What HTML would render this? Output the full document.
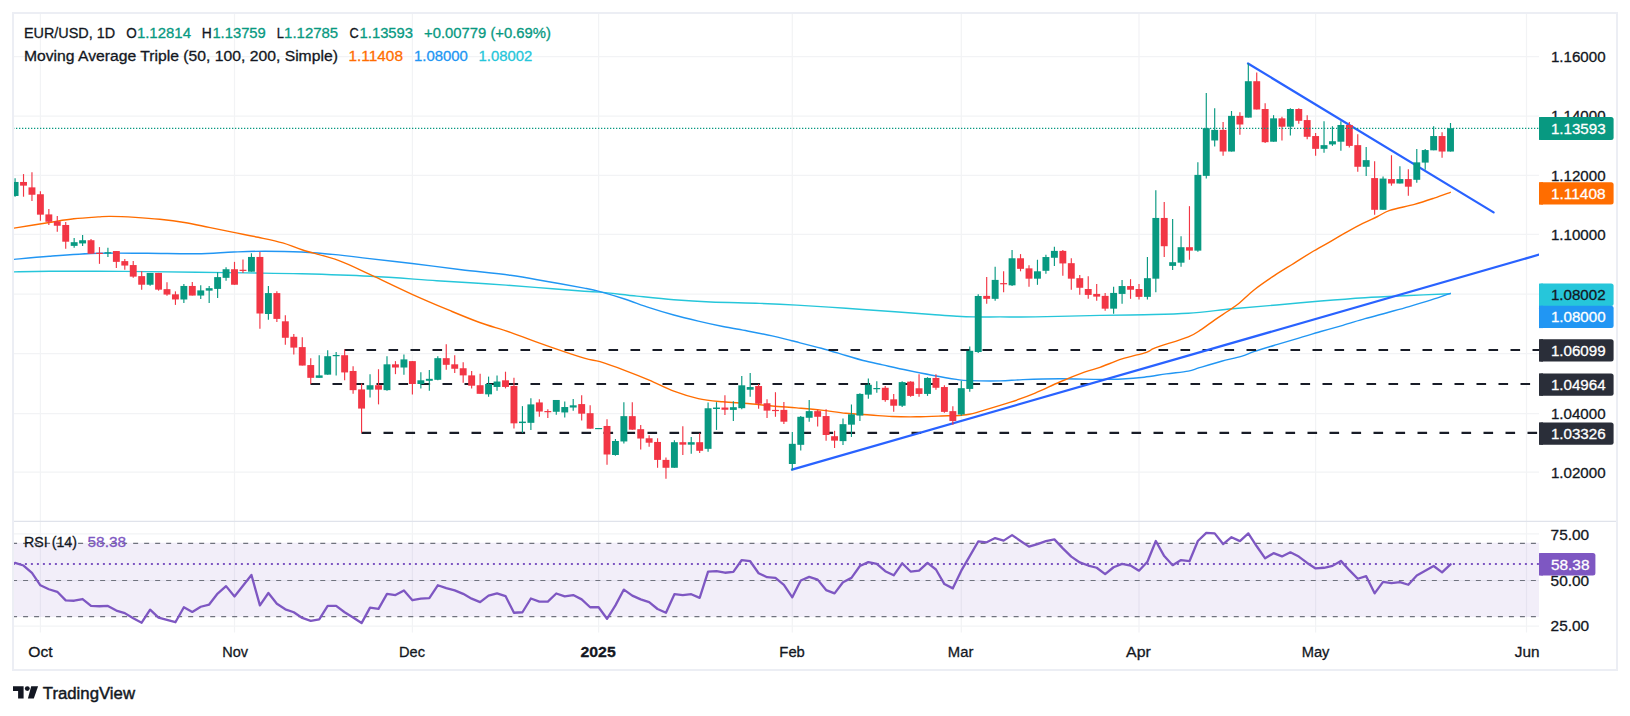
<!DOCTYPE html>
<html lang="en"><head><meta charset="utf-8"><title>EUR/USD 1D chart</title>
<style>html,body{margin:0;padding:0;background:#fff;}svg{display:block;}</style></head>
<body>
<svg width="1630" height="716" viewBox="0 0 1630 716" font-family="'Liberation Sans', sans-serif">
<rect width="1630" height="716" fill="#ffffff"/>
<clipPath id="cp"><rect x="14" y="14" width="1525" height="655"/></clipPath>
<line x1="40.4" y1="12.5" x2="40.4" y2="632.5" stroke="#f2f3f5" stroke-width="1.25" />
<line x1="234.5" y1="12.5" x2="234.5" y2="632.5" stroke="#f2f3f5" stroke-width="1.25" />
<line x1="412.4" y1="12.5" x2="412.4" y2="632.5" stroke="#f2f3f5" stroke-width="1.25" />
<line x1="598.6" y1="12.5" x2="598.6" y2="632.5" stroke="#f2f3f5" stroke-width="1.25" />
<line x1="792.3" y1="12.5" x2="792.3" y2="632.5" stroke="#f2f3f5" stroke-width="1.25" />
<line x1="961.3" y1="12.5" x2="961.3" y2="632.5" stroke="#f2f3f5" stroke-width="1.25" />
<line x1="1139" y1="12.5" x2="1139" y2="632.5" stroke="#f2f3f5" stroke-width="1.25" />
<line x1="1315.6" y1="12.5" x2="1315.6" y2="632.5" stroke="#f2f3f5" stroke-width="1.25" />
<line x1="1526.5" y1="12.5" x2="1526.5" y2="632.5" stroke="#f2f3f5" stroke-width="1.25" />
<line x1="12.5" y1="56.5" x2="1539" y2="56.5" stroke="#f2f3f5" stroke-width="1.25" />
<line x1="12.5" y1="116" x2="1539" y2="116" stroke="#f2f3f5" stroke-width="1.25" />
<line x1="12.5" y1="175.3" x2="1539" y2="175.3" stroke="#f2f3f5" stroke-width="1.25" />
<line x1="12.5" y1="234.4" x2="1539" y2="234.4" stroke="#f2f3f5" stroke-width="1.25" />
<line x1="12.5" y1="294" x2="1539" y2="294" stroke="#f2f3f5" stroke-width="1.25" />
<line x1="12.5" y1="353.5" x2="1539" y2="353.5" stroke="#f2f3f5" stroke-width="1.25" />
<line x1="12.5" y1="413.5" x2="1539" y2="413.5" stroke="#f2f3f5" stroke-width="1.25" />
<line x1="12.5" y1="472.1" x2="1539" y2="472.1" stroke="#f2f3f5" stroke-width="1.25" />
<line x1="12.5" y1="533.9" x2="1539" y2="533.9" stroke="#f2f3f5" stroke-width="1.25" />
<line x1="12.5" y1="580.5" x2="1539" y2="580.5" stroke="#f2f3f5" stroke-width="1.25" />
<line x1="12.5" y1="626.2" x2="1539" y2="626.2" stroke="#f2f3f5" stroke-width="1.25" />
<rect x="14" y="542.8" width="1525" height="74.2" fill="#7e57c2" fill-opacity="0.1"/>
<g clip-path="url(#cp)">
<path d="M12 272C12.25 271.98 7.3 272.03 13.5 271.9C19.7 271.77 30.97 271.28 49.2 271.2C67.43 271.12 98.32 271.23 122.9 271.4C147.48 271.57 176.2 271.95 196.7 272.2C217.2 272.45 228.43 272.63 245.9 272.9C263.37 273.17 280.77 273.23 301.5 273.8C322.23 274.37 347.77 275.15 370.3 276.3C392.83 277.45 417.43 279.47 436.7 280.7C455.97 281.93 469.52 282.58 485.9 283.7C502.28 284.82 518.62 286.13 535 287.4C551.38 288.67 573.37 290.52 584.2 291.3C595.03 292.08 591.22 291.3 600 292.1C608.78 292.9 624.6 294.83 636.9 296.1C649.2 297.37 661.52 298.72 673.8 299.7C686.08 300.68 696.27 301.38 710.6 302C724.93 302.62 745.45 302.88 759.8 303.4C774.15 303.92 782.35 304.28 796.7 305.1C811.05 305.92 829.52 307.18 845.9 308.3C862.28 309.42 880.67 310.77 895 311.8C909.33 312.83 921.65 313.77 931.9 314.5C942.15 315.23 949.53 315.8 956.5 316.2C963.47 316.6 966.45 316.78 973.7 316.9C980.95 317.02 989.75 316.9 1000 316.9C1010.25 316.9 1018.53 317.15 1035.2 316.9C1051.87 316.65 1081.83 315.77 1100 315.4C1118.17 315.03 1129.48 315.07 1144.2 314.7C1158.92 314.33 1173.58 314.18 1188.3 313.2C1203.02 312.22 1217.77 310.17 1232.5 308.8C1247.23 307.43 1261.98 306.3 1276.7 305C1291.42 303.7 1306.08 302.22 1320.8 301C1335.52 299.78 1350.27 298.62 1365 297.7C1379.73 296.78 1394.98 296.17 1409.2 295.5C1423.42 294.83 1443.45 294 1450.3 293.7" fill="none" stroke="#26c6da" stroke-width="1.4" stroke-linecap="round"/>
<path d="M12 259.6C12.25 259.57 7.3 259.97 13.5 259.4C19.7 258.83 35.07 257.22 49.2 256.2C63.33 255.18 81.92 253.78 98.3 253.3C114.68 252.82 131.1 253.23 147.5 253.3C163.9 253.37 182.35 253.92 196.7 253.7C211.05 253.48 222.28 252.42 233.6 252C244.92 251.58 253.28 251.2 264.6 251.2C275.92 251.2 289.22 251.38 301.5 252C313.78 252.62 328.07 253.92 338.3 254.9C348.53 255.88 350.6 256.47 362.9 257.9C375.2 259.33 395.7 261.53 412.1 263.5C428.5 265.47 444.92 267.73 461.3 269.7C477.68 271.67 496.07 273.33 510.4 275.3C524.73 277.27 535 279.37 547.3 281.5C559.6 283.63 575.42 286.42 584.2 288.1C592.98 289.78 593.27 289.78 600 291.6C606.73 293.42 616.4 296.33 624.6 299C632.8 301.67 641 304.93 649.2 307.6C657.4 310.27 665.62 312.75 673.8 315C681.98 317.25 690.12 319.18 698.3 321.1C706.48 323.02 714.7 324.85 722.9 326.5C731.1 328.15 739.3 329.43 747.5 331C755.7 332.57 764.72 334.27 772.1 335.9C779.48 337.53 783.6 338.75 791.8 340.8C800 342.85 812.28 345.75 821.3 348.2C830.32 350.65 838.93 353.45 845.9 355.5C852.87 357.55 856.97 358.93 863.1 360.5C869.23 362.07 875.33 363.27 882.7 364.9C890.07 366.53 899.1 368.58 907.3 370.3C915.5 372.02 923.7 373.68 931.9 375.2C940.1 376.72 950.35 378.5 956.5 379.4C962.65 380.3 961.55 380.35 968.8 380.6C976.05 380.85 990.98 381.07 1000 380.9C1009.02 380.73 1012.93 379.95 1022.9 379.6C1032.87 379.25 1046.95 378.83 1059.8 378.8C1072.65 378.77 1089.62 379.37 1100 379.4C1110.38 379.43 1114.73 379.37 1122.1 379C1129.47 378.63 1136.83 378.05 1144.2 377.2C1151.57 376.35 1158.95 374.92 1166.3 373.9C1173.65 372.88 1182.78 372.13 1188.3 371.1C1193.82 370.07 1193.87 369.33 1199.4 367.7C1204.93 366.07 1214.52 363.2 1221.5 361.3C1228.48 359.4 1235.78 357.95 1241.3 356.3C1246.82 354.65 1248.7 353.35 1254.6 351.4C1260.5 349.45 1269.33 346.82 1276.7 344.6C1284.07 342.38 1291.45 340.28 1298.8 338.1C1306.15 335.92 1313.45 333.63 1320.8 331.5C1328.15 329.37 1335.53 327.43 1342.9 325.3C1350.27 323.17 1357.63 320.8 1365 318.7C1372.37 316.6 1379.73 314.72 1387.1 312.7C1394.47 310.68 1401.83 308.73 1409.2 306.6C1416.57 304.47 1424.45 302.12 1431.3 299.9C1438.15 297.68 1447.13 294.4 1450.3 293.3" fill="none" stroke="#2196f3" stroke-width="1.4" stroke-linecap="round"/>
<path d="M12 228.6C12.25 228.53 7.3 229.22 13.5 228.2C19.7 227.18 39.15 224.07 49.2 222.5C59.25 220.93 65.62 219.73 73.8 218.8C81.98 217.87 92.17 217.3 98.3 216.9C104.43 216.5 104.45 216.32 110.6 216.4C116.75 216.48 127 216.92 135.2 217.4C143.4 217.88 151.6 218.45 159.8 219.3C168 220.15 176.2 221.15 184.4 222.5C192.6 223.85 200.8 225.75 209 227.4C217.2 229.05 225.4 230.75 233.6 232.4C241.8 234.05 250.02 235.55 258.2 237.3C266.38 239.05 275.28 240.78 282.7 242.9C290.12 245.02 293.43 247.1 302.7 250C311.97 252.9 327.03 256.2 338.3 260.3C349.57 264.4 358 268.93 370.3 274.6C382.6 280.27 398.98 288.37 412.1 294.3C425.22 300.23 437.73 305.5 449 310.2C460.27 314.9 469.47 318.8 479.7 322.5C489.93 326.2 499.13 328.5 510.4 332.4C521.67 336.3 535 341.6 547.3 345.9C559.6 350.2 575.42 355.57 584.2 358.2C592.98 360.83 593.27 359.68 600 361.7C606.73 363.72 616.4 367.23 624.6 370.3C632.8 373.37 641 376.62 649.2 380.1C657.4 383.58 665.62 388.12 673.8 391.2C681.98 394.28 690.12 396.83 698.3 398.6C706.48 400.37 714.7 400.98 722.9 401.8C731.1 402.62 739.3 402.8 747.5 403.5C755.7 404.2 763.9 405.27 772.1 406C780.3 406.73 788.5 407.22 796.7 407.9C804.9 408.58 813.1 409.2 821.3 410.1C829.5 411 837.72 412.48 845.9 413.3C854.08 414.12 862.73 414.47 870.4 415C878.07 415.53 884.22 416.2 891.9 416.5C899.58 416.8 908.3 416.88 916.5 416.8C924.7 416.72 932.78 416.35 941.1 416C949.42 415.65 958.92 415.77 966.4 414.7C973.88 413.63 978.63 411.68 986 409.6C993.37 407.52 1002.4 404.95 1010.6 402.2C1018.8 399.45 1027 396.47 1035.2 393.1C1043.4 389.73 1051.6 385.48 1059.8 382C1068 378.52 1077.7 374.65 1084.4 372.2C1091.1 369.75 1093.72 369.52 1100 367.3C1106.28 365.08 1114.37 361.4 1122.1 358.9C1129.83 356.4 1140.88 354.13 1146.4 352.3C1151.92 350.47 1148.22 350.48 1155.2 347.9C1162.18 345.32 1180.57 339.9 1188.3 336.8C1196.03 333.7 1197.18 332.13 1201.6 329.3C1206.02 326.47 1210.38 322.85 1214.8 319.8C1219.22 316.75 1224.05 313.75 1228.1 311C1232.15 308.25 1234.68 306.88 1239.1 303.3C1243.52 299.72 1248.73 294.12 1254.6 289.5C1260.47 284.88 1267.75 279.97 1274.3 275.6C1280.85 271.23 1287.35 267.4 1293.9 263.3C1300.45 259.2 1307.03 254.9 1313.6 251C1320.17 247.1 1327.57 243.18 1333.3 239.9C1339.03 236.62 1343.08 234.05 1348 231.3C1352.92 228.55 1357.88 225.87 1362.8 223.4C1367.72 220.93 1373 218.67 1377.5 216.5C1382 214.33 1383.65 212.43 1389.8 210.4C1395.95 208.37 1407.02 206.35 1414.4 204.3C1421.78 202.25 1428.12 200.1 1434.1 198.1C1440.08 196.1 1447.6 193.27 1450.3 192.3" fill="none" stroke="#ff6d00" stroke-width="1.4" stroke-linecap="round"/>
</g>
<g clip-path="url(#cp)">
<line x1="344.5" y1="350" x2="1539" y2="350" stroke="#181c27" stroke-width="2.1" stroke-dasharray="9.6 12.4"/>
<line x1="310.5" y1="384" x2="1539" y2="384" stroke="#181c27" stroke-width="2.1" stroke-dasharray="9.6 12.4"/>
<line x1="361.5" y1="432.9" x2="1539" y2="432.9" stroke="#181c27" stroke-width="2.1" stroke-dasharray="9.6 12.4"/>
<line x1="792" y1="469.6" x2="1539" y2="254.7" stroke="#2962ff" stroke-width="2.25" stroke-linecap="round"/>
<line x1="1248" y1="63.5" x2="1493.6" y2="212.4" stroke="#2962ff" stroke-width="2.25" stroke-linecap="round"/>
</g>
<g clip-path="url(#cp)">
<line x1="15.08" y1="178.27" x2="15.08" y2="196.71" stroke="#089981" stroke-width="1.15" />
<rect x="11.63" y="181.96" width="6.9" height="14.01" fill="#089981"/>
<line x1="23.52" y1="174.09" x2="23.52" y2="196.71" stroke="#f23645" stroke-width="1.15" />
<rect x="20.07" y="181.96" width="6.9" height="3.69" fill="#f23645"/>
<line x1="31.96" y1="172.13" x2="31.96" y2="200.89" stroke="#f23645" stroke-width="1.15" />
<rect x="28.51" y="187.37" width="6.9" height="7.38" fill="#f23645"/>
<line x1="40.4" y1="191.3" x2="40.4" y2="220.81" stroke="#f23645" stroke-width="1.15" />
<rect x="36.95" y="194.25" width="6.9" height="20.41" fill="#f23645"/>
<line x1="48.84" y1="209" x2="48.84" y2="224.98" stroke="#f23645" stroke-width="1.15" />
<rect x="45.39" y="214.41" width="6.9" height="7.38" fill="#f23645"/>
<line x1="57.28" y1="215.89" x2="57.28" y2="231.87" stroke="#f23645" stroke-width="1.15" />
<rect x="53.83" y="221.3" width="6.9" height="4.43" fill="#f23645"/>
<line x1="65.72" y1="222.03" x2="65.72" y2="248.83" stroke="#f23645" stroke-width="1.15" />
<rect x="62.27" y="224.98" width="6.9" height="16.72" fill="#f23645"/>
<line x1="74.16" y1="238.01" x2="74.16" y2="247.85" stroke="#089981" stroke-width="1.15" />
<rect x="70.71" y="242.19" width="6.9" height="3.69" fill="#089981"/>
<line x1="82.6" y1="235.06" x2="82.6" y2="245.88" stroke="#089981" stroke-width="1.15" />
<rect x="79.15" y="240.23" width="6.9" height="3.2" fill="#089981"/>
<line x1="91.03" y1="239" x2="91.03" y2="253.75" stroke="#f23645" stroke-width="1.15" />
<rect x="87.58" y="240.23" width="6.9" height="13.52" fill="#f23645"/>
<line x1="99.47" y1="247.11" x2="99.47" y2="263.83" stroke="#f23645" stroke-width="1.15" />
<rect x="96.02" y="252.77" width="6.9" height="1.2" fill="#f23645"/>
<line x1="107.91" y1="247.85" x2="107.91" y2="256.95" stroke="#089981" stroke-width="1.15" />
<rect x="104.46" y="252.27" width="6.9" height="1.2" fill="#089981"/>
<line x1="116.35" y1="251.04" x2="116.35" y2="268.01" stroke="#f23645" stroke-width="1.15" />
<rect x="112.9" y="251.04" width="6.9" height="10.82" fill="#f23645"/>
<line x1="124.79" y1="258.91" x2="124.79" y2="269.73" stroke="#f23645" stroke-width="1.15" />
<rect x="121.34" y="261.12" width="6.9" height="4.43" fill="#f23645"/>
<line x1="133.23" y1="261.12" x2="133.23" y2="277.84" stroke="#f23645" stroke-width="1.15" />
<rect x="129.78" y="265.06" width="6.9" height="11.56" fill="#f23645"/>
<line x1="141.67" y1="271.2" x2="141.67" y2="289.64" stroke="#f23645" stroke-width="1.15" />
<rect x="138.22" y="276.12" width="6.9" height="8.6" fill="#f23645"/>
<line x1="150.11" y1="272.93" x2="150.11" y2="285.71" stroke="#089981" stroke-width="1.15" />
<rect x="146.66" y="272.93" width="6.9" height="11.8" fill="#089981"/>
<line x1="158.55" y1="272.93" x2="158.55" y2="290.63" stroke="#f23645" stroke-width="1.15" />
<rect x="155.1" y="272.93" width="6.9" height="16.72" fill="#f23645"/>
<line x1="166.99" y1="282.27" x2="166.99" y2="295.79" stroke="#f23645" stroke-width="1.15" />
<rect x="163.54" y="289.15" width="6.9" height="5.41" fill="#f23645"/>
<line x1="175.43" y1="291.36" x2="175.43" y2="304.89" stroke="#f23645" stroke-width="1.15" />
<rect x="171.98" y="294.31" width="6.9" height="5.16" fill="#f23645"/>
<line x1="183.87" y1="283.99" x2="183.87" y2="302.92" stroke="#089981" stroke-width="1.15" />
<rect x="180.42" y="285.96" width="6.9" height="13.52" fill="#089981"/>
<line x1="192.3" y1="282.02" x2="192.3" y2="295.54" stroke="#f23645" stroke-width="1.15" />
<rect x="188.85" y="285.96" width="6.9" height="9.59" fill="#f23645"/>
<line x1="200.74" y1="285.22" x2="200.74" y2="298.99" stroke="#089981" stroke-width="1.15" />
<rect x="197.29" y="290.38" width="6.9" height="5.16" fill="#089981"/>
<line x1="209.18" y1="285.96" x2="209.18" y2="302.92" stroke="#089981" stroke-width="1.15" />
<rect x="205.73" y="288.17" width="6.9" height="2.46" fill="#089981"/>
<line x1="217.62" y1="272.19" x2="217.62" y2="298" stroke="#089981" stroke-width="1.15" />
<rect x="214.17" y="277.11" width="6.9" height="11.8" fill="#089981"/>
<line x1="226.06" y1="267.27" x2="226.06" y2="280.79" stroke="#089981" stroke-width="1.15" />
<rect x="222.61" y="269.24" width="6.9" height="8.6" fill="#089981"/>
<line x1="234.5" y1="261.86" x2="234.5" y2="284.73" stroke="#f23645" stroke-width="1.15" />
<rect x="231.05" y="269.24" width="6.9" height="15.49" fill="#f23645"/>
<line x1="242.97" y1="259.4" x2="242.97" y2="272.93" stroke="#f23645" stroke-width="1.15" />
<rect x="239.52" y="269.73" width="6.9" height="1.23" fill="#f23645"/>
<line x1="251.44" y1="253.26" x2="251.44" y2="271.7" stroke="#089981" stroke-width="1.15" />
<rect x="247.99" y="256.95" width="6.9" height="14.75" fill="#089981"/>
<line x1="259.91" y1="252.03" x2="259.91" y2="328.67" stroke="#f23645" stroke-width="1.15" />
<rect x="256.46" y="256.95" width="6.9" height="56.55" fill="#f23645"/>
<line x1="268.39" y1="285.96" x2="268.39" y2="319.64" stroke="#089981" stroke-width="1.15" />
<rect x="264.94" y="293.09" width="6.9" height="20.9" fill="#089981"/>
<line x1="276.86" y1="291.36" x2="276.86" y2="322.1" stroke="#f23645" stroke-width="1.15" />
<rect x="273.41" y="293.09" width="6.9" height="25.81" fill="#f23645"/>
<line x1="285.33" y1="315.15" x2="285.33" y2="344.65" stroke="#f23645" stroke-width="1.15" />
<rect x="281.88" y="321.3" width="6.9" height="16.47" fill="#f23645"/>
<line x1="293.8" y1="334.08" x2="293.8" y2="354.49" stroke="#f23645" stroke-width="1.15" />
<rect x="290.35" y="336.79" width="6.9" height="10.82" fill="#f23645"/>
<line x1="302.27" y1="337.28" x2="302.27" y2="365.55" stroke="#f23645" stroke-width="1.15" />
<rect x="298.82" y="347.11" width="6.9" height="18.44" fill="#f23645"/>
<line x1="310.74" y1="358.17" x2="310.74" y2="383.99" stroke="#f23645" stroke-width="1.15" />
<rect x="307.29" y="365.06" width="6.9" height="12.78" fill="#f23645"/>
<line x1="319.21" y1="355.22" x2="319.21" y2="377.84" stroke="#089981" stroke-width="1.15" />
<rect x="315.76" y="375.38" width="6.9" height="2.46" fill="#089981"/>
<line x1="327.69" y1="350.31" x2="327.69" y2="374.65" stroke="#089981" stroke-width="1.15" />
<rect x="324.24" y="356.21" width="6.9" height="18.44" fill="#089981"/>
<line x1="336.16" y1="352.03" x2="336.16" y2="375.38" stroke="#089981" stroke-width="1.15" />
<rect x="332.71" y="354.98" width="6.9" height="1.23" fill="#089981"/>
<line x1="344.63" y1="349.57" x2="344.63" y2="380.3" stroke="#f23645" stroke-width="1.15" />
<rect x="341.18" y="355.22" width="6.9" height="17.21" fill="#f23645"/>
<line x1="353.1" y1="366.29" x2="353.1" y2="393.82" stroke="#f23645" stroke-width="1.15" />
<rect x="349.65" y="370.96" width="6.9" height="19.18" fill="#f23645"/>
<line x1="361.57" y1="383.5" x2="361.57" y2="432.86" stroke="#f23645" stroke-width="1.15" />
<rect x="358.12" y="389.4" width="6.9" height="19.18" fill="#f23645"/>
<line x1="370.04" y1="374.15" x2="370.04" y2="397.51" stroke="#089981" stroke-width="1.15" />
<rect x="366.59" y="385.22" width="6.9" height="4.43" fill="#089981"/>
<line x1="378.51" y1="369.24" x2="378.51" y2="404.39" stroke="#f23645" stroke-width="1.15" />
<rect x="375.06" y="385.22" width="6.9" height="4.43" fill="#f23645"/>
<line x1="386.99" y1="356.21" x2="386.99" y2="390.87" stroke="#089981" stroke-width="1.15" />
<rect x="383.54" y="364.32" width="6.9" height="25.81" fill="#089981"/>
<line x1="395.46" y1="361.12" x2="395.46" y2="374.15" stroke="#f23645" stroke-width="1.15" />
<rect x="392.01" y="364.32" width="6.9" height="3.2" fill="#f23645"/>
<line x1="403.93" y1="354.49" x2="403.93" y2="374.65" stroke="#089981" stroke-width="1.15" />
<rect x="400.48" y="359.4" width="6.9" height="8.11" fill="#089981"/>
<line x1="412.4" y1="361.12" x2="412.4" y2="394.56" stroke="#f23645" stroke-width="1.15" />
<rect x="408.95" y="361.12" width="6.9" height="22.86" fill="#f23645"/>
<line x1="420.86" y1="372.19" x2="420.86" y2="388.41" stroke="#089981" stroke-width="1.15" />
<rect x="417.41" y="380.3" width="6.9" height="3.69" fill="#089981"/>
<line x1="429.33" y1="369.98" x2="429.33" y2="390.63" stroke="#089981" stroke-width="1.15" />
<rect x="425.88" y="378.83" width="6.9" height="1.97" fill="#089981"/>
<line x1="437.79" y1="356.21" x2="437.79" y2="380.3" stroke="#089981" stroke-width="1.15" />
<rect x="434.34" y="358.17" width="6.9" height="21.63" fill="#089981"/>
<line x1="446.25" y1="344.16" x2="446.25" y2="369.73" stroke="#f23645" stroke-width="1.15" />
<rect x="442.8" y="358.17" width="6.9" height="6.64" fill="#f23645"/>
<line x1="454.72" y1="355.22" x2="454.72" y2="372.93" stroke="#f23645" stroke-width="1.15" />
<rect x="451.27" y="364.32" width="6.9" height="4.43" fill="#f23645"/>
<line x1="463.18" y1="362.35" x2="463.18" y2="382.76" stroke="#f23645" stroke-width="1.15" />
<rect x="459.73" y="368.25" width="6.9" height="7.13" fill="#f23645"/>
<line x1="471.65" y1="370.96" x2="471.65" y2="388.41" stroke="#f23645" stroke-width="1.15" />
<rect x="468.2" y="375.38" width="6.9" height="10.33" fill="#f23645"/>
<line x1="480.11" y1="373.66" x2="480.11" y2="393.82" stroke="#f23645" stroke-width="1.15" />
<rect x="476.66" y="385.22" width="6.9" height="8.6" fill="#f23645"/>
<line x1="488.57" y1="376.61" x2="488.57" y2="396.77" stroke="#089981" stroke-width="1.15" />
<rect x="485.12" y="383.99" width="6.9" height="10.33" fill="#089981"/>
<line x1="497.04" y1="375.38" x2="497.04" y2="390.63" stroke="#089981" stroke-width="1.15" />
<rect x="493.59" y="381.53" width="6.9" height="5.41" fill="#089981"/>
<line x1="505.5" y1="371.7" x2="505.5" y2="388.41" stroke="#f23645" stroke-width="1.15" />
<rect x="502.05" y="380.3" width="6.9" height="6.64" fill="#f23645"/>
<line x1="513.96" y1="377.84" x2="513.96" y2="428.43" stroke="#f23645" stroke-width="1.15" />
<rect x="510.51" y="385.96" width="6.9" height="37.37" fill="#f23645"/>
<line x1="522.43" y1="406.12" x2="522.43" y2="432.86" stroke="#089981" stroke-width="1.15" />
<rect x="518.98" y="421.6" width="6.9" height="1.48" fill="#089981"/>
<line x1="530.89" y1="398.25" x2="530.89" y2="429.91" stroke="#089981" stroke-width="1.15" />
<rect x="527.44" y="404.39" width="6.9" height="18.44" fill="#089981"/>
<line x1="539.35" y1="399.23" x2="539.35" y2="416.69" stroke="#f23645" stroke-width="1.15" />
<rect x="535.9" y="402.43" width="6.9" height="9.1" fill="#f23645"/>
<line x1="547.82" y1="409.31" x2="547.82" y2="417.92" stroke="#f23645" stroke-width="1.15" />
<rect x="544.37" y="411.03" width="6.9" height="1.2" fill="#f23645"/>
<line x1="556.28" y1="399.97" x2="556.28" y2="414.72" stroke="#089981" stroke-width="1.15" />
<rect x="552.83" y="399.97" width="6.9" height="11.8" fill="#089981"/>
<line x1="564.75" y1="401.39" x2="564.75" y2="417.62" stroke="#089981" stroke-width="1.15" />
<rect x="561.3" y="407.04" width="6.9" height="5.41" fill="#089981"/>
<line x1="573.21" y1="398.93" x2="573.21" y2="410.73" stroke="#089981" stroke-width="1.15" />
<rect x="569.76" y="405.32" width="6.9" height="2.21" fill="#089981"/>
<line x1="581.67" y1="395.24" x2="581.67" y2="420.57" stroke="#f23645" stroke-width="1.15" />
<rect x="578.22" y="404.09" width="6.9" height="9.59" fill="#f23645"/>
<line x1="590.14" y1="405.32" x2="590.14" y2="428.68" stroke="#f23645" stroke-width="1.15" />
<rect x="586.69" y="413.19" width="6.9" height="15.49" fill="#f23645"/>
<line x1="595.1" y1="428.59" x2="602.1" y2="428.59" stroke="#089981" stroke-width="1.2" />
<line x1="607.02" y1="419.34" x2="607.02" y2="464.82" stroke="#f23645" stroke-width="1.15" />
<rect x="603.57" y="425.97" width="6.9" height="28.52" fill="#f23645"/>
<line x1="615.44" y1="439" x2="615.44" y2="455.72" stroke="#089981" stroke-width="1.15" />
<rect x="611.99" y="440.97" width="6.9" height="14.01" fill="#089981"/>
<line x1="623.87" y1="402.13" x2="623.87" y2="443.43" stroke="#089981" stroke-width="1.15" />
<rect x="620.42" y="416.14" width="6.9" height="25.32" fill="#089981"/>
<line x1="632.29" y1="402.13" x2="632.29" y2="429.66" stroke="#f23645" stroke-width="1.15" />
<rect x="628.84" y="416.14" width="6.9" height="13.52" fill="#f23645"/>
<line x1="640.71" y1="424.99" x2="640.71" y2="449.58" stroke="#f23645" stroke-width="1.15" />
<rect x="637.26" y="429.17" width="6.9" height="9.34" fill="#f23645"/>
<line x1="649.13" y1="435.32" x2="649.13" y2="446.87" stroke="#f23645" stroke-width="1.15" />
<rect x="645.68" y="438.27" width="6.9" height="4.43" fill="#f23645"/>
<line x1="657.55" y1="438.27" x2="657.55" y2="467.77" stroke="#f23645" stroke-width="1.15" />
<rect x="654.1" y="441.95" width="6.9" height="17.95" fill="#f23645"/>
<line x1="665.97" y1="457.44" x2="665.97" y2="478.83" stroke="#f23645" stroke-width="1.15" />
<rect x="662.52" y="459.9" width="6.9" height="7.87" fill="#f23645"/>
<line x1="674.4" y1="440.23" x2="674.4" y2="467.77" stroke="#089981" stroke-width="1.15" />
<rect x="670.95" y="442.2" width="6.9" height="25.57" fill="#089981"/>
<line x1="682.82" y1="426.22" x2="682.82" y2="454.98" stroke="#f23645" stroke-width="1.15" />
<rect x="679.37" y="442.2" width="6.9" height="2.46" fill="#f23645"/>
<line x1="691.24" y1="437.04" x2="691.24" y2="453.76" stroke="#089981" stroke-width="1.15" />
<rect x="687.79" y="442.2" width="6.9" height="2.46" fill="#089981"/>
<line x1="699.66" y1="433.35" x2="699.66" y2="453.02" stroke="#f23645" stroke-width="1.15" />
<rect x="696.21" y="442.2" width="6.9" height="8.6" fill="#f23645"/>
<line x1="708.08" y1="402.62" x2="708.08" y2="451.79" stroke="#089981" stroke-width="1.15" />
<rect x="704.63" y="408.27" width="6.9" height="40.57" fill="#089981"/>
<line x1="716.5" y1="402.13" x2="716.5" y2="429.91" stroke="#089981" stroke-width="1.15" />
<rect x="713.05" y="407.54" width="6.9" height="1.48" fill="#089981"/>
<line x1="724.93" y1="395.24" x2="724.93" y2="414.91" stroke="#f23645" stroke-width="1.15" />
<rect x="721.48" y="407.54" width="6.9" height="2.21" fill="#f23645"/>
<line x1="733.35" y1="401.3" x2="733.35" y2="420.96" stroke="#089981" stroke-width="1.15" />
<rect x="729.9" y="407.2" width="6.9" height="2.7" fill="#089981"/>
<line x1="741.77" y1="375.97" x2="741.77" y2="409.16" stroke="#089981" stroke-width="1.15" />
<rect x="738.32" y="385.32" width="6.9" height="22.86" fill="#089981"/>
<line x1="750.19" y1="373.02" x2="750.19" y2="396.87" stroke="#089981" stroke-width="1.15" />
<rect x="746.74" y="387.04" width="6.9" height="2.7" fill="#089981"/>
<line x1="758.61" y1="384.09" x2="758.61" y2="408.67" stroke="#f23645" stroke-width="1.15" />
<rect x="755.16" y="386.05" width="6.9" height="17.7" fill="#f23645"/>
<line x1="767.03" y1="399.33" x2="767.03" y2="418.01" stroke="#f23645" stroke-width="1.15" />
<rect x="763.58" y="403.26" width="6.9" height="7.38" fill="#f23645"/>
<line x1="775.46" y1="392.2" x2="775.46" y2="416.79" stroke="#f23645" stroke-width="1.15" />
<rect x="772.01" y="409.9" width="6.9" height="1.2" fill="#f23645"/>
<line x1="783.88" y1="402.03" x2="783.88" y2="423.92" stroke="#f23645" stroke-width="1.15" />
<rect x="780.43" y="409.9" width="6.9" height="11.8" fill="#f23645"/>
<line x1="792.3" y1="432.03" x2="792.3" y2="470.14" stroke="#089981" stroke-width="1.15" />
<rect x="788.85" y="443.83" width="6.9" height="20.16" fill="#089981"/>
<line x1="800.75" y1="416.05" x2="800.75" y2="450.47" stroke="#089981" stroke-width="1.15" />
<rect x="797.3" y="416.79" width="6.9" height="28.03" fill="#089981"/>
<line x1="809.2" y1="400.07" x2="809.2" y2="421.7" stroke="#089981" stroke-width="1.15" />
<rect x="805.75" y="411.13" width="6.9" height="6.64" fill="#089981"/>
<line x1="817.65" y1="409.41" x2="817.65" y2="426.62" stroke="#f23645" stroke-width="1.15" />
<rect x="814.2" y="411.13" width="6.9" height="5.65" fill="#f23645"/>
<line x1="826.1" y1="409.16" x2="826.1" y2="440.63" stroke="#f23645" stroke-width="1.15" />
<rect x="822.65" y="416.05" width="6.9" height="18.93" fill="#f23645"/>
<line x1="834.55" y1="430.8" x2="834.55" y2="448.01" stroke="#f23645" stroke-width="1.15" />
<rect x="831.1" y="436.21" width="6.9" height="4.43" fill="#f23645"/>
<line x1="843" y1="418.51" x2="843" y2="445.06" stroke="#089981" stroke-width="1.15" />
<rect x="839.55" y="424.16" width="6.9" height="16.96" fill="#089981"/>
<line x1="851.45" y1="404.49" x2="851.45" y2="436.95" stroke="#089981" stroke-width="1.15" />
<rect x="848" y="414.33" width="6.9" height="10.33" fill="#089981"/>
<line x1="859.9" y1="393.18" x2="859.9" y2="420.96" stroke="#089981" stroke-width="1.15" />
<rect x="856.45" y="393.92" width="6.9" height="21.63" fill="#089981"/>
<line x1="868.35" y1="378.43" x2="868.35" y2="398.84" stroke="#089981" stroke-width="1.15" />
<rect x="864.9" y="384.82" width="6.9" height="9.83" fill="#089981"/>
<line x1="876.8" y1="381.14" x2="876.8" y2="392.69" stroke="#089981" stroke-width="1.15" />
<rect x="873.35" y="388.02" width="6.9" height="1.2" fill="#089981"/>
<line x1="885.25" y1="386.05" x2="885.25" y2="401.79" stroke="#f23645" stroke-width="1.15" />
<rect x="881.8" y="387.78" width="6.9" height="12.29" fill="#f23645"/>
<line x1="893.7" y1="393.92" x2="893.7" y2="411.87" stroke="#f23645" stroke-width="1.15" />
<rect x="890.25" y="399.33" width="6.9" height="6.39" fill="#f23645"/>
<line x1="902.15" y1="381.14" x2="902.15" y2="406.95" stroke="#089981" stroke-width="1.15" />
<rect x="898.7" y="382.12" width="6.9" height="23.6" fill="#089981"/>
<line x1="910.6" y1="381.14" x2="910.6" y2="396.87" stroke="#f23645" stroke-width="1.15" />
<rect x="907.15" y="381.63" width="6.9" height="14.26" fill="#f23645"/>
<line x1="919.05" y1="374.25" x2="919.05" y2="396.87" stroke="#f23645" stroke-width="1.15" />
<rect x="915.6" y="388.27" width="6.9" height="5.65" fill="#f23645"/>
<line x1="927.5" y1="377.2" x2="927.5" y2="395.89" stroke="#089981" stroke-width="1.15" />
<rect x="924.05" y="377.94" width="6.9" height="15.98" fill="#089981"/>
<line x1="935.95" y1="374.25" x2="935.95" y2="389.74" stroke="#f23645" stroke-width="1.15" />
<rect x="932.5" y="377.94" width="6.9" height="9.83" fill="#f23645"/>
<line x1="944.4" y1="385.32" x2="944.4" y2="412.85" stroke="#f23645" stroke-width="1.15" />
<rect x="940.95" y="387.04" width="6.9" height="24.83" fill="#f23645"/>
<line x1="952.85" y1="406.21" x2="952.85" y2="424.65" stroke="#f23645" stroke-width="1.15" />
<rect x="949.4" y="411.13" width="6.9" height="9.83" fill="#f23645"/>
<line x1="961.3" y1="380.8" x2="961.3" y2="415.71" stroke="#089981" stroke-width="1.15" />
<rect x="957.85" y="388.17" width="6.9" height="26.31" fill="#089981"/>
<line x1="969.76" y1="346.38" x2="969.76" y2="391.86" stroke="#089981" stroke-width="1.15" />
<rect x="966.31" y="350.81" width="6.9" height="38.11" fill="#089981"/>
<line x1="978.22" y1="294.26" x2="978.22" y2="353.02" stroke="#089981" stroke-width="1.15" />
<rect x="974.77" y="295.98" width="6.9" height="56.05" fill="#089981"/>
<line x1="986.69" y1="276.95" x2="986.69" y2="303.75" stroke="#f23645" stroke-width="1.15" />
<rect x="983.24" y="295.88" width="6.9" height="2.95" fill="#f23645"/>
<line x1="995.15" y1="266.87" x2="995.15" y2="300.8" stroke="#089981" stroke-width="1.15" />
<rect x="991.7" y="279.9" width="6.9" height="18.93" fill="#089981"/>
<line x1="1003.61" y1="271.3" x2="1003.61" y2="292.19" stroke="#f23645" stroke-width="1.15" />
<rect x="1000.16" y="283.1" width="6.9" height="1.2" fill="#f23645"/>
<line x1="1012.07" y1="249.91" x2="1012.07" y2="286.05" stroke="#089981" stroke-width="1.15" />
<rect x="1008.62" y="258.27" width="6.9" height="27.04" fill="#089981"/>
<line x1="1020.53" y1="254.09" x2="1020.53" y2="271.3" stroke="#f23645" stroke-width="1.15" />
<rect x="1017.08" y="258.27" width="6.9" height="10.57" fill="#f23645"/>
<line x1="1029" y1="265.15" x2="1029" y2="286.79" stroke="#f23645" stroke-width="1.15" />
<rect x="1025.55" y="268.35" width="6.9" height="10.33" fill="#f23645"/>
<line x1="1037.46" y1="259.74" x2="1037.46" y2="284.82" stroke="#089981" stroke-width="1.15" />
<rect x="1034.01" y="271.3" width="6.9" height="7.38" fill="#089981"/>
<line x1="1045.92" y1="254.82" x2="1045.92" y2="273.76" stroke="#089981" stroke-width="1.15" />
<rect x="1042.47" y="257.04" width="6.9" height="13.77" fill="#089981"/>
<line x1="1054.38" y1="246.71" x2="1054.38" y2="265.89" stroke="#089981" stroke-width="1.15" />
<rect x="1050.93" y="250.89" width="6.9" height="6.88" fill="#089981"/>
<line x1="1062.84" y1="249.91" x2="1062.84" y2="275.72" stroke="#f23645" stroke-width="1.15" />
<rect x="1059.39" y="250.89" width="6.9" height="12.54" fill="#f23645"/>
<line x1="1071.3" y1="258.27" x2="1071.3" y2="289.74" stroke="#f23645" stroke-width="1.15" />
<rect x="1067.85" y="263.18" width="6.9" height="15.49" fill="#f23645"/>
<line x1="1079.77" y1="274.98" x2="1079.77" y2="294.65" stroke="#f23645" stroke-width="1.15" />
<rect x="1076.32" y="278.18" width="6.9" height="9.59" fill="#f23645"/>
<line x1="1088.23" y1="276.21" x2="1088.23" y2="298.83" stroke="#f23645" stroke-width="1.15" />
<rect x="1084.78" y="289" width="6.9" height="5.9" fill="#f23645"/>
<line x1="1096.69" y1="284.08" x2="1096.69" y2="300.8" stroke="#f23645" stroke-width="1.15" />
<rect x="1093.24" y="293.92" width="6.9" height="2.7" fill="#f23645"/>
<line x1="1105.15" y1="292.93" x2="1105.15" y2="310.63" stroke="#f23645" stroke-width="1.15" />
<rect x="1101.7" y="295.88" width="6.9" height="12.78" fill="#f23645"/>
<line x1="1113.61" y1="286.79" x2="1113.61" y2="313.83" stroke="#089981" stroke-width="1.15" />
<rect x="1110.16" y="292.93" width="6.9" height="15.73" fill="#089981"/>
<line x1="1122.08" y1="279.9" x2="1122.08" y2="303.75" stroke="#089981" stroke-width="1.15" />
<rect x="1118.63" y="286.05" width="6.9" height="7.87" fill="#089981"/>
<line x1="1130.54" y1="279.16" x2="1130.54" y2="298.83" stroke="#f23645" stroke-width="1.15" />
<rect x="1127.09" y="286.05" width="6.9" height="3.69" fill="#f23645"/>
<line x1="1139" y1="284.08" x2="1139" y2="299.57" stroke="#f23645" stroke-width="1.15" />
<rect x="1135.55" y="289" width="6.9" height="7.87" fill="#f23645"/>
<line x1="1147.41" y1="257.04" x2="1147.41" y2="299.57" stroke="#089981" stroke-width="1.15" />
<rect x="1143.96" y="278.18" width="6.9" height="18.68" fill="#089981"/>
<line x1="1155.82" y1="190.14" x2="1155.82" y2="292.19" stroke="#089981" stroke-width="1.15" />
<rect x="1152.37" y="217.95" width="6.9" height="60.73" fill="#089981"/>
<line x1="1164.23" y1="201.97" x2="1164.23" y2="257.04" stroke="#f23645" stroke-width="1.15" />
<rect x="1160.78" y="217.95" width="6.9" height="28.27" fill="#f23645"/>
<line x1="1172.64" y1="218.93" x2="1172.64" y2="270.07" stroke="#089981" stroke-width="1.15" />
<rect x="1169.19" y="262.2" width="6.9" height="3.69" fill="#089981"/>
<line x1="1181.05" y1="236.14" x2="1181.05" y2="266.87" stroke="#089981" stroke-width="1.15" />
<rect x="1177.6" y="247.2" width="6.9" height="15.49" fill="#089981"/>
<line x1="1189.46" y1="206.15" x2="1189.46" y2="259.74" stroke="#f23645" stroke-width="1.15" />
<rect x="1186.01" y="247.2" width="6.9" height="3.44" fill="#f23645"/>
<line x1="1197.87" y1="162.35" x2="1197.87" y2="251.63" stroke="#089981" stroke-width="1.15" />
<rect x="1194.42" y="174.89" width="6.9" height="75.75" fill="#089981"/>
<line x1="1206.28" y1="93.02" x2="1206.28" y2="178.58" stroke="#089981" stroke-width="1.15" />
<rect x="1202.83" y="128.18" width="6.9" height="47.7" fill="#089981"/>
<line x1="1214.69" y1="108.27" x2="1214.69" y2="146.62" stroke="#089981" stroke-width="1.15" />
<rect x="1211.24" y="129.9" width="6.9" height="10.57" fill="#089981"/>
<line x1="1223.1" y1="122.03" x2="1223.1" y2="155.72" stroke="#f23645" stroke-width="1.15" />
<rect x="1219.65" y="129.9" width="6.9" height="21.63" fill="#f23645"/>
<line x1="1231.5" y1="110.97" x2="1231.5" y2="151.54" stroke="#089981" stroke-width="1.15" />
<rect x="1228.05" y="115.89" width="6.9" height="35.65" fill="#089981"/>
<line x1="1239.91" y1="112.2" x2="1239.91" y2="134.82" stroke="#f23645" stroke-width="1.15" />
<rect x="1236.46" y="115.89" width="6.9" height="8.6" fill="#f23645"/>
<line x1="1248.32" y1="63.52" x2="1248.32" y2="117.61" stroke="#089981" stroke-width="1.15" />
<rect x="1244.87" y="81.22" width="6.9" height="36.39" fill="#089981"/>
<line x1="1256.73" y1="72.62" x2="1256.73" y2="109.5" stroke="#f23645" stroke-width="1.15" />
<rect x="1253.28" y="81.22" width="6.9" height="28.27" fill="#f23645"/>
<line x1="1265.14" y1="103.35" x2="1265.14" y2="142.93" stroke="#f23645" stroke-width="1.15" />
<rect x="1261.69" y="109" width="6.9" height="33.19" fill="#f23645"/>
<line x1="1273.55" y1="115.15" x2="1273.55" y2="141.7" stroke="#089981" stroke-width="1.15" />
<rect x="1270.1" y="118.35" width="6.9" height="23.36" fill="#089981"/>
<line x1="1281.96" y1="116.87" x2="1281.96" y2="140.47" stroke="#f23645" stroke-width="1.15" />
<rect x="1278.51" y="118.35" width="6.9" height="8.36" fill="#f23645"/>
<line x1="1290.37" y1="108.27" x2="1290.37" y2="135.56" stroke="#089981" stroke-width="1.15" />
<rect x="1286.92" y="109" width="6.9" height="17.7" fill="#089981"/>
<line x1="1298.78" y1="108.27" x2="1298.78" y2="123.76" stroke="#f23645" stroke-width="1.15" />
<rect x="1295.33" y="109" width="6.9" height="11.8" fill="#f23645"/>
<line x1="1307.19" y1="115.15" x2="1307.19" y2="139.24" stroke="#f23645" stroke-width="1.15" />
<rect x="1303.74" y="120.07" width="6.9" height="16.72" fill="#f23645"/>
<line x1="1315.6" y1="133.1" x2="1315.6" y2="155.72" stroke="#f23645" stroke-width="1.15" />
<rect x="1312.15" y="136.05" width="6.9" height="12.78" fill="#f23645"/>
<line x1="1324.03" y1="121.3" x2="1324.03" y2="152.77" stroke="#089981" stroke-width="1.15" />
<rect x="1320.58" y="145.14" width="6.9" height="3.69" fill="#089981"/>
<line x1="1332.46" y1="126.21" x2="1332.46" y2="145.88" stroke="#089981" stroke-width="1.15" />
<rect x="1329.01" y="141.21" width="6.9" height="3.2" fill="#089981"/>
<line x1="1340.89" y1="121.3" x2="1340.89" y2="150.8" stroke="#089981" stroke-width="1.15" />
<rect x="1337.44" y="124.98" width="6.9" height="16.72" fill="#089981"/>
<line x1="1349.32" y1="122.03" x2="1349.32" y2="147.6" stroke="#f23645" stroke-width="1.15" />
<rect x="1345.87" y="124.98" width="6.9" height="20.9" fill="#f23645"/>
<line x1="1357.76" y1="134.33" x2="1357.76" y2="171.7" stroke="#f23645" stroke-width="1.15" />
<rect x="1354.31" y="145.14" width="6.9" height="21.63" fill="#f23645"/>
<line x1="1366.19" y1="147.11" x2="1366.19" y2="175.88" stroke="#089981" stroke-width="1.15" />
<rect x="1362.74" y="160.14" width="6.9" height="6.64" fill="#089981"/>
<line x1="1374.62" y1="161.37" x2="1374.62" y2="214.72" stroke="#f23645" stroke-width="1.15" />
<rect x="1371.17" y="178.09" width="6.9" height="31.71" fill="#f23645"/>
<line x1="1383.05" y1="176.61" x2="1383.05" y2="209.8" stroke="#089981" stroke-width="1.15" />
<rect x="1379.6" y="178.58" width="6.9" height="31.22" fill="#089981"/>
<line x1="1391.48" y1="155.22" x2="1391.48" y2="185.71" stroke="#f23645" stroke-width="1.15" />
<rect x="1388.03" y="179.07" width="6.9" height="4.43" fill="#f23645"/>
<line x1="1399.91" y1="166.29" x2="1399.91" y2="183.5" stroke="#089981" stroke-width="1.15" />
<rect x="1396.46" y="179.07" width="6.9" height="4.43" fill="#089981"/>
<line x1="1408.34" y1="169.24" x2="1408.34" y2="195.79" stroke="#f23645" stroke-width="1.15" />
<rect x="1404.89" y="179.07" width="6.9" height="7.62" fill="#f23645"/>
<line x1="1416.78" y1="149.08" x2="1416.78" y2="182.76" stroke="#089981" stroke-width="1.15" />
<rect x="1413.33" y="162.35" width="6.9" height="17.46" fill="#089981"/>
<line x1="1425.21" y1="149.08" x2="1425.21" y2="169.73" stroke="#089981" stroke-width="1.15" />
<rect x="1421.76" y="150.06" width="6.9" height="12.54" fill="#089981"/>
<line x1="1433.64" y1="126.21" x2="1433.64" y2="150.31" stroke="#089981" stroke-width="1.15" />
<rect x="1430.19" y="136.05" width="6.9" height="14.26" fill="#089981"/>
<line x1="1442.07" y1="132.36" x2="1442.07" y2="157.68" stroke="#f23645" stroke-width="1.15" />
<rect x="1438.62" y="136.05" width="6.9" height="15.49" fill="#f23645"/>
<line x1="1450.5" y1="123.02" x2="1450.5" y2="151.54" stroke="#089981" stroke-width="1.15" />
<rect x="1447.05" y="128.18" width="6.9" height="23.36" fill="#089981"/>
</g>
<line x1="1538.3" y1="128.4" x2="14" y2="128.4" stroke="#089981" stroke-width="1.2" stroke-dasharray="1.3 1.7"/>
<line x1="1535.9" y1="543.4" x2="14" y2="543.4" stroke="#70737e" stroke-width="1.15" stroke-dasharray="5 6.006"/>
<line x1="1535.9" y1="580.5" x2="14" y2="580.5" stroke="#70737e" stroke-width="1.15" stroke-dasharray="5 6.006"/>
<line x1="1535.9" y1="616.6" x2="14" y2="616.6" stroke="#70737e" stroke-width="1.15" stroke-dasharray="5 6.006"/>
<line x1="1538.9" y1="564" x2="14" y2="564" stroke="#7e57c2" stroke-width="2" stroke-dasharray="2 4"/>
<polyline points="15.08,562.95 23.52,565.52 31.96,572.91 40.4,585.28 48.84,589.23 57.28,591.81 65.72,600.4 74.16,600.74 82.6,599.02 91.03,605.9 99.47,606.24 107.91,605.9 116.35,610.53 124.79,613.11 133.23,618.26 141.67,622.73 150.11,609.68 158.55,617.58 166.99,619.98 175.43,622.22 183.87,607.27 192.3,611.91 200.74,606.75 209.18,604.52 217.62,593.53 226.06,586.14 234.5,596.45 242.97,585.8 251.44,574.97 259.91,605.38 268.39,593.01 276.86,603.83 285.33,609.33 293.8,612.25 302.27,617.92 310.74,620.84 319.21,619.3 327.69,605.9 336.16,605.9 344.63,612.25 353.1,617.58 361.57,623.08 370.04,607.61 378.51,608.82 386.99,593.87 395.46,595.07 403.93,590.43 412.4,600.23 420.86,598.68 429.33,598.17 437.79,585.28 446.25,588.2 454.72,590.43 463.18,593.87 471.65,598.68 480.11,602.12 488.57,595.59 497.04,593.36 505.5,596.1 513.96,612.77 522.43,612.25 530.89,598.51 539.35,601.6 547.82,601.6 556.28,593.53 564.75,596.45 573.21,595.07 581.67,599.37 590.14,607.27 598.6,607.27 607.02,618.78 615.44,605.38 623.87,589.58 632.29,595.59 640.71,599.37 649.13,602.12 657.55,608.99 665.97,612.77 674.4,594.21 682.82,595.07 691.24,594.21 699.66,597.82 708.08,571.54 716.5,571.19 724.93,572.74 733.35,571.88 741.77,560.03 750.19,561.23 758.61,573.26 767.03,577.21 775.46,577.89 783.88,584.77 792.3,597.31 800.75,580.47 809.2,576.86 817.65,579.61 826.1,590.09 834.55,593.36 843,582.19 851.45,577.89 859.9,566.04 868.35,562.09 876.8,563.81 885.25,571.19 893.7,575.32 902.15,563.29 910.6,571.54 919.05,570.68 927.5,562.95 935.95,569.48 944.4,584.08 952.85,588.37 961.3,570.68 969.76,556.08 978.22,541.47 986.69,542.33 995.15,538.04 1003.61,540.62 1012.07,535.12 1020.53,540.96 1029,546.63 1037.46,544.05 1045.92,541.13 1054.38,539.41 1062.84,548.35 1071.3,556.59 1079.77,562.43 1088.23,565.52 1096.69,567.76 1105.15,574.11 1113.61,567.24 1122.08,563.81 1130.54,565.52 1139,570.68 1147.41,561.75 1155.82,540.96 1164.23,556.08 1172.64,565.18 1181.05,560.03 1189.46,561.23 1197.87,540.96 1206.28,532.88 1214.69,533.4 1223.1,544.05 1231.5,537.18 1239.91,541.13 1248.32,533.4 1256.73,546.28 1265.14,558.31 1273.55,553.16 1281.96,556.42 1290.37,552.3 1298.78,556.59 1307.19,562.95 1315.6,568.45 1324.03,567.76 1332.46,565.87 1340.89,560.89 1349.32,570.16 1357.76,578.75 1366.19,576.18 1374.62,593.36 1383.05,581.85 1391.48,583.22 1399.91,582.19 1408.34,584.77 1416.78,575.49 1425.21,570.68 1433.64,566.04 1442.07,572.4 1450.5,564.32" fill="none" stroke="#7e57c2" stroke-width="2.3" stroke-linejoin="round" stroke-linecap="round" />
<line x1="12.5" y1="521.4" x2="1617" y2="521.4" stroke="#e0e3eb" stroke-width="1.1" />
<rect x="13" y="13" width="1604" height="657" fill="none" stroke="#eceef4" stroke-width="2"/>
<text x="1550.9" y="61.95" font-size="15.4" fill="#131722" text-anchor="start" font-weight="normal" textLength="54.7" lengthAdjust="spacingAndGlyphs"  stroke="#131722" stroke-width="0.3">1.16000</text>
<text x="1550.9" y="121.45" font-size="15.4" fill="#131722" text-anchor="start" font-weight="normal" textLength="54.7" lengthAdjust="spacingAndGlyphs"  stroke="#131722" stroke-width="0.3">1.14000</text>
<text x="1550.9" y="180.75" font-size="15.4" fill="#131722" text-anchor="start" font-weight="normal" textLength="54.7" lengthAdjust="spacingAndGlyphs"  stroke="#131722" stroke-width="0.3">1.12000</text>
<text x="1550.9" y="239.85" font-size="15.4" fill="#131722" text-anchor="start" font-weight="normal" textLength="54.7" lengthAdjust="spacingAndGlyphs"  stroke="#131722" stroke-width="0.3">1.10000</text>
<text x="1550.9" y="418.95" font-size="15.4" fill="#131722" text-anchor="start" font-weight="normal" textLength="54.7" lengthAdjust="spacingAndGlyphs"  stroke="#131722" stroke-width="0.3">1.04000</text>
<text x="1550.9" y="477.55" font-size="15.4" fill="#131722" text-anchor="start" font-weight="normal" textLength="54.7" lengthAdjust="spacingAndGlyphs"  stroke="#131722" stroke-width="0.3">1.02000</text>
<rect x="1539" y="117.1" width="74.6" height="22.8" rx="2.5" fill="#089981"/>
<rect x="1539" y="117.1" width="4" height="22.8" fill="#089981"/>
<text x="1550.9" y="134" font-size="15.4" fill="#ffffff" text-anchor="start" font-weight="normal" textLength="54.7" lengthAdjust="spacingAndGlyphs"  stroke="#ffffff" stroke-width="0.3">1.13593</text>
<rect x="1539" y="182.2" width="74.6" height="22.4" rx="2.5" fill="#ff6d00"/>
<rect x="1539" y="182.2" width="4" height="22.4" fill="#ff6d00"/>
<text x="1550.9" y="198.9" font-size="15.4" fill="#ffffff" text-anchor="start" font-weight="normal" textLength="54.7" lengthAdjust="spacingAndGlyphs"  stroke="#ffffff" stroke-width="0.3">1.11408</text>
<rect x="1539" y="283.6" width="74.6" height="22.4" rx="2.5" fill="#26c6da"/>
<rect x="1539" y="283.6" width="4" height="22.4" fill="#26c6da"/>
<text x="1550.9" y="300.3" font-size="15.4" fill="#131722" text-anchor="start" font-weight="normal" textLength="54.7" lengthAdjust="spacingAndGlyphs"  stroke="#131722" stroke-width="0.3">1.08002</text>
<rect x="1539" y="305.7" width="74.6" height="22.4" rx="2.5" fill="#2196f3"/>
<rect x="1539" y="305.7" width="4" height="22.4" fill="#2196f3"/>
<text x="1550.9" y="322.4" font-size="15.4" fill="#ffffff" text-anchor="start" font-weight="normal" textLength="54.7" lengthAdjust="spacingAndGlyphs"  stroke="#ffffff" stroke-width="0.3">1.08000</text>
<rect x="1539" y="339.2" width="74.6" height="22.4" rx="2.5" fill="#2a2e39"/>
<rect x="1539" y="339.2" width="4" height="22.4" fill="#2a2e39"/>
<text x="1550.9" y="355.9" font-size="15.4" fill="#ffffff" text-anchor="start" font-weight="normal" textLength="54.7" lengthAdjust="spacingAndGlyphs"  stroke="#ffffff" stroke-width="0.3">1.06099</text>
<rect x="1539" y="373.4" width="74.6" height="22.4" rx="2.5" fill="#2a2e39"/>
<rect x="1539" y="373.4" width="4" height="22.4" fill="#2a2e39"/>
<text x="1550.9" y="390.1" font-size="15.4" fill="#ffffff" text-anchor="start" font-weight="normal" textLength="54.7" lengthAdjust="spacingAndGlyphs"  stroke="#ffffff" stroke-width="0.3">1.04964</text>
<rect x="1539" y="422.4" width="74.6" height="22.4" rx="2.5" fill="#2a2e39"/>
<rect x="1539" y="422.4" width="4" height="22.4" fill="#2a2e39"/>
<text x="1550.9" y="439.1" font-size="15.4" fill="#ffffff" text-anchor="start" font-weight="normal" textLength="54.7" lengthAdjust="spacingAndGlyphs"  stroke="#ffffff" stroke-width="0.3">1.03326</text>
<text x="1550.6" y="540" font-size="15.4" fill="#131722" text-anchor="start" font-weight="normal" textLength="38.6" lengthAdjust="spacingAndGlyphs"  stroke="#131722" stroke-width="0.3">75.00</text>
<text x="1550.6" y="585.7" font-size="15.4" fill="#131722" text-anchor="start" font-weight="normal" textLength="38.6" lengthAdjust="spacingAndGlyphs"  stroke="#131722" stroke-width="0.3">50.00</text>
<text x="1550.6" y="630.8" font-size="15.4" fill="#131722" text-anchor="start" font-weight="normal" textLength="38.6" lengthAdjust="spacingAndGlyphs"  stroke="#131722" stroke-width="0.3">25.00</text>
<rect x="1539" y="553.1" width="56.4" height="22.4" rx="2.5" fill="#7e57c2"/>
<rect x="1539" y="553.1" width="4" height="22.4" fill="#7e57c2"/>
<text x="1550.9" y="569.8" font-size="15.4" fill="#ffffff" text-anchor="start" font-weight="normal" textLength="38.6" lengthAdjust="spacingAndGlyphs"  stroke="#ffffff" stroke-width="0.3">58.38</text>
<text x="28.25" y="657.2" font-size="15.3" fill="#131722" text-anchor="start" font-weight="normal" textLength="24.3" lengthAdjust="spacingAndGlyphs"  stroke="#131722" stroke-width="0.3">Oct</text>
<text x="222.2" y="657.2" font-size="15.3" fill="#131722" text-anchor="start" font-weight="normal" textLength="25.8" lengthAdjust="spacingAndGlyphs"  stroke="#131722" stroke-width="0.3">Nov</text>
<text x="399.05" y="657.2" font-size="15.3" fill="#131722" text-anchor="start" font-weight="normal" textLength="25.9" lengthAdjust="spacingAndGlyphs"  stroke="#131722" stroke-width="0.3">Dec</text>
<text x="580.45" y="657.2" font-size="15.3" fill="#131722" text-anchor="start" font-weight="bold" textLength="35.3" lengthAdjust="spacingAndGlyphs"  stroke="#131722" stroke-width="0.3">2025</text>
<text x="779.35" y="657.2" font-size="15.3" fill="#131722" text-anchor="start" font-weight="normal" textLength="25.5" lengthAdjust="spacingAndGlyphs"  stroke="#131722" stroke-width="0.3">Feb</text>
<text x="947.85" y="657.2" font-size="15.3" fill="#131722" text-anchor="start" font-weight="normal" textLength="25.5" lengthAdjust="spacingAndGlyphs"  stroke="#131722" stroke-width="0.3">Mar</text>
<text x="1126.05" y="657.2" font-size="15.3" fill="#131722" text-anchor="start" font-weight="normal" textLength="24.7" lengthAdjust="spacingAndGlyphs"  stroke="#131722" stroke-width="0.3">Apr</text>
<text x="1301.7" y="657.2" font-size="15.3" fill="#131722" text-anchor="start" font-weight="normal" textLength="27.8" lengthAdjust="spacingAndGlyphs"  stroke="#131722" stroke-width="0.3">May</text>
<text x="1514.75" y="657.2" font-size="15.3" fill="#131722" text-anchor="start" font-weight="normal" textLength="24.7" lengthAdjust="spacingAndGlyphs"  stroke="#131722" stroke-width="0.3">Jun</text>
<text x="23.9" y="37.9" font-size="15.3" fill="#131722" text-anchor="start" font-weight="normal" textLength="91.3" lengthAdjust="spacingAndGlyphs"  stroke="#131722" stroke-width="0.3">EUR/USD, 1D</text>
<text x="126.2" y="37.9" font-size="15.3" fill="#131722" text-anchor="start" font-weight="normal" textLength="10.5" lengthAdjust="spacingAndGlyphs"  stroke="#131722" stroke-width="0.3">O</text>
<text x="136.9" y="37.9" font-size="15.3" fill="#089981" text-anchor="start" font-weight="normal" textLength="54.1" lengthAdjust="spacingAndGlyphs"  stroke="#089981" stroke-width="0.3">1.12814</text>
<text x="201.7" y="37.9" font-size="15.3" fill="#131722" text-anchor="start" font-weight="normal" textLength="10" lengthAdjust="spacingAndGlyphs"  stroke="#131722" stroke-width="0.3">H</text>
<text x="212.4" y="37.9" font-size="15.3" fill="#089981" text-anchor="start" font-weight="normal" textLength="53.4" lengthAdjust="spacingAndGlyphs"  stroke="#089981" stroke-width="0.3">1.13759</text>
<text x="276.8" y="37.9" font-size="15.3" fill="#131722" text-anchor="start" font-weight="normal" textLength="7.2" lengthAdjust="spacingAndGlyphs"  stroke="#131722" stroke-width="0.3">L</text>
<text x="284.1" y="37.9" font-size="15.3" fill="#089981" text-anchor="start" font-weight="normal" textLength="54.1" lengthAdjust="spacingAndGlyphs"  stroke="#089981" stroke-width="0.3">1.12785</text>
<text x="349.6" y="37.9" font-size="15.3" fill="#131722" text-anchor="start" font-weight="normal" textLength="9.2" lengthAdjust="spacingAndGlyphs"  stroke="#131722" stroke-width="0.3">C</text>
<text x="359.6" y="37.9" font-size="15.3" fill="#089981" text-anchor="start" font-weight="normal" textLength="53.4" lengthAdjust="spacingAndGlyphs"  stroke="#089981" stroke-width="0.3">1.13593</text>
<text x="424" y="37.9" font-size="15.3" fill="#089981" text-anchor="start" font-weight="normal" textLength="127" lengthAdjust="spacingAndGlyphs"  stroke="#089981" stroke-width="0.3">+0.00779 (+0.69%)</text>
<text x="23.9" y="60.8" font-size="15.3" fill="#131722" text-anchor="start" font-weight="normal" textLength="314" lengthAdjust="spacingAndGlyphs"  stroke="#131722" stroke-width="0.3">Moving Average Triple (50, 100, 200, Simple)</text>
<text x="348.5" y="60.8" font-size="15.3" fill="#ff6d00" text-anchor="start" font-weight="normal" textLength="54.5" lengthAdjust="spacingAndGlyphs"  stroke="#ff6d00" stroke-width="0.3">1.11408</text>
<text x="414" y="60.8" font-size="15.3" fill="#2196f3" text-anchor="start" font-weight="normal" textLength="53.8" lengthAdjust="spacingAndGlyphs"  stroke="#2196f3" stroke-width="0.3">1.08000</text>
<text x="478.5" y="60.8" font-size="15.3" fill="#26c6da" text-anchor="start" font-weight="normal" textLength="53.7" lengthAdjust="spacingAndGlyphs"  stroke="#26c6da" stroke-width="0.3">1.08002</text>
<text x="24.1" y="547" font-size="15.3" fill="#131722" text-anchor="start" font-weight="normal" textLength="52.9" lengthAdjust="spacingAndGlyphs"  stroke="#131722" stroke-width="0.3">RSI (14)</text>
<text x="87.5" y="547" font-size="15.3" fill="#7e57c2" text-anchor="start" font-weight="normal" textLength="38.6" lengthAdjust="spacingAndGlyphs"  stroke="#7e57c2" stroke-width="0.3">58.38</text>
<g fill="#131722">
<path d="M13 686.2h10.6v12.4h-5.5v-7.7h-5.1z"/>
<circle cx="27.3" cy="688.6" r="2.45"/>
<path d="M31.2 686.2h6.9l-4.3 12.4h-5.9z"/>
</g>
<text x="42.8" y="698.6" font-size="16.9" fill="#131722" text-anchor="start" font-weight="normal" textLength="92.2" lengthAdjust="spacingAndGlyphs" stroke="#131722" stroke-width="0.45">TradingView</text>
</svg>
</body></html>
